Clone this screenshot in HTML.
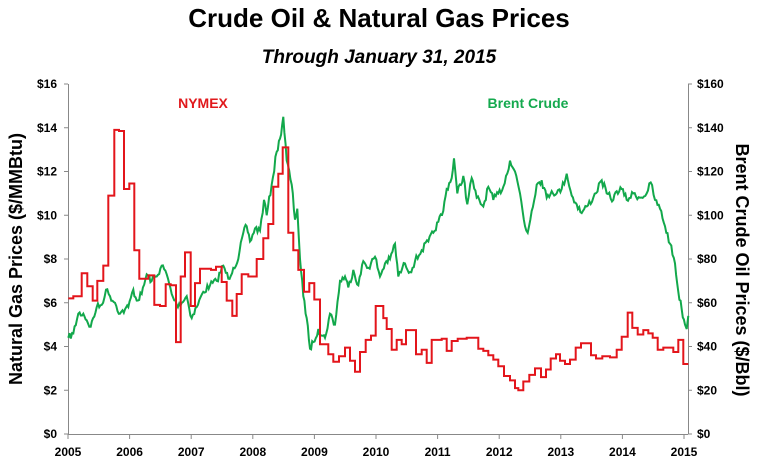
<!DOCTYPE html>
<html><head><meta charset="utf-8"><style>
html,body{margin:0;padding:0;background:#fff;}
svg{display:block;font-family:"Liberation Sans",sans-serif;}
</style></head><body>
<svg id="s" width="758" height="469" viewBox="0 0 758 469" xmlns="http://www.w3.org/2000/svg">
<text x="379" y="27" text-anchor="middle" font-size="26" font-weight="bold">Crude Oil &amp; Natural Gas Prices</text>
<text x="379" y="63" text-anchor="middle" font-size="19" font-weight="bold" font-style="italic">Through January 31, 2015</text>
<g stroke="#888" stroke-width="1" fill="none">
<line x1="68.5" y1="84" x2="68.5" y2="434"/>
<line x1="688.5" y1="84" x2="688.5" y2="434"/>
<line x1="68" y1="434.5" x2="688" y2="434.5"/>
</g>
<g id="ticks" stroke="#888" stroke-width="1"></g>
<g id="lab" font-size="12" font-weight="bold" fill="#000"></g>
<text transform="translate(22,259) rotate(-90)" text-anchor="middle" font-size="18" font-weight="bold">Natural Gas Prices ($/MMBtu)</text>
<text transform="translate(736,270) rotate(90)" text-anchor="middle" font-size="18" font-weight="bold">Brent Crude Oil Prices ($/Bbl)</text>
<text x="203" y="108" text-anchor="middle" font-size="14" font-weight="bold" fill="#e0191c">NYMEX</text>
<text x="528" y="108" text-anchor="middle" font-size="14" font-weight="bold" fill="#14a94e">Brent Crude</text>
<path id="oil" fill="none" stroke="#12a84b" stroke-width="2"/>
<path id="gas" fill="none" stroke="#e3151b" stroke-width="2"/>
</svg>
<script>
var NS="http://www.w3.org/2000/svg";
function el(t,a,p,txt){var e=document.createElementNS(NS,t);for(var k in a)e.setAttribute(k,a[k]);if(txt!==undefined)e.textContent=txt;document.getElementById(p).appendChild(e);}
function Y(v){return 434-v*21.875;}
for(var i=0;i<=8;i++){var y=Y(i*2);
 el('line',{x1:64,y1:y,x2:68,y2:y},'ticks');
 el('line',{x1:688,y1:y,x2:692,y2:y},'ticks');
 el('text',{x:57,y:y+4,'text-anchor':'end'},'lab','$'+(i*2));
 el('text',{x:697,y:y+4},'lab','$'+(i*20));}
for(var i=0;i<=10;i++){var x=68+i*61.6;
 el('line',{x1:x,y1:434,x2:x,y2:439},'ticks');
 el('text',{x:x,y:456,'text-anchor':'middle'},'lab',''+(2005+i));}
var g1=[[205,6.2],[220,6.3],[245,7.35],[262,6.75],[278,6.1],[292,7.0],[310,7.7],[325,10.9],[343,13.9],[357,13.85],[372,11.2],[388,11.45],[403,8.4],[418,7.1],[445,7.25],[463,5.9],[480,5.85],[497,6.85],[512,6.8],[528,4.2],[542,7.2],[555,8.3],[572,5.85],[585,6.9],[600,7.55],[633,7.5],[648,7.65],[665,6.95],[680,6.1],[697,5.4],[710,6.4],[725,7.3],[745,7.2],[770,8.0],[790,8.95],[805,9.6],[820,11.3],[835,11.9],[848,13.1],[865,9.2],[880,8.4],[895,7.5],[912,6.5],[928,6.9],[943,6.15],[960,4.1],[985,3.65],[1000,3.3],[1017,3.55],[1035,3.95],[1050,3.35],[1065,2.85],[1080,3.75],[1097,4.3],[1113,4.5],[1127,5.85]];
var g2=[[10,5.3],[20,4.8],[35,3.85],[50,4.3],[65,4.1],[78,4.75],[108,3.65],[125,3.85],[140,3.25],[155,4.3],[185,4.35],[200,3.8],[215,4.25],[233,4.35],[260,4.4],[295,3.9],[310,3.8],[325,3.6],[340,3.4],[355,3.1],[372,2.65],[390,2.45],[405,2.1],[415,2.0],[430,2.4],[448,2.7],[465,3.0],[483,2.6],[498,2.95],[512,3.45],[528,3.65],[540,3.35],[555,3.2],[570,3.4],[587,3.95],[603,4.15],[633,3.6],[648,3.45],[667,3.55],[690,3.5],[710,3.85],[725,4.45],[743,5.55],[757,4.85],[773,4.55],[790,4.75],[805,4.6],[818,4.4],[833,3.85],[850,3.95],[880,3.75],[895,4.3],[910,3.2],[925,3.2]];
var gp=[];g1.forEach(function(p){gp.push([p[0]/3,p[1]]);});g2.forEach(function(p){gp.push([380+p[0]/3,p[1]]);});
var d='M'+gp[0][0].toFixed(1)+','+Y(gp[0][1]).toFixed(1);
for(var i=1;i<gp.length;i++){d+=' H'+gp[i][0].toFixed(1)+' V'+Y(gp[i][1]).toFixed(1);}
document.getElementById('gas').setAttribute('d',d);
var o1=[[205,4.4],[220,4.6],[235,5.5],[250,5.5],[260,5.2],[272,4.9],[290,5.8],[305,5.9],[318,6.6],[330,6.3],[345,6.0],[360,5.5],[375,5.7],[385,5.8],[400,6.6],[410,6.1],[425,6.4],[440,7.3],[455,7.0],[470,7.2],[485,7.7],[500,7.3],[515,6.4],[530,5.9],[545,6.0],[560,6.3],[575,5.3],[590,5.8],[610,6.5],[630,6.8],[650,7.0],[670,7.7],[685,7.1],[700,7.6],[715,8.0],[730,9.2],[740,9.5],[750,8.8],[765,9.4],[780,9.3],[792,10.7],[800,10.0],[815,11.4],[830,12.9],[840,13.5],[850,14.5],[860,12.5],[875,11.4],[885,9.8],[892,10.3],[900,8.0],[910,6.3],[920,5.3],[930,3.9],[940,4.2],[955,4.8],[965,4.5],[975,4.4],[990,5.5],[1005,5.0],[1020,7.0],[1035,7.2],[1045,6.7],[1060,7.5],[1075,6.8],[1090,7.9],[1105,7.6],[1125,8.1],[1140,7.2]];
var o2=[[15,78],[30,80],[45,87],[55,72],[75,78],[90,74],[105,79],[125,84],[145,88],[160,92],[175,97],[190,102],[200,112],[215,117],[222,126],[232,110],[250,118],[262,105],[275,117],[290,108],[310,104],[325,113],[340,107],[355,110],[370,113],[390,125],[405,120],[420,110],[435,95],[443,92],[455,102],[470,114],[485,116],[500,108],[515,111],[530,110],[545,112],[560,119],[575,109],[590,105],[605,101],[620,104],[640,108],[665,116],[680,110],[700,107],[710,111],[725,112],[740,107],[760,110],[780,108],[800,110],[812,115],[825,107],[840,103],[855,95],[870,87],[885,78],[895,65],[905,57],[915,50],[920,48],[925,54]];
var op=[];o1.forEach(function(p){op.push([p[0]/3,p[1]]);});o2.forEach(function(p){op.push([380+p[0]/3,p[1]/10]);});
var seed=7;function rnd(){seed=(seed*16807)%2147483647;return seed/2147483647;}
var pts=[];
for(var i=0;i<op.length-1;i++){var a=op[i],b=op[i+1];var n=Math.max(1,Math.round((b[0]-a[0])/1.3));
 for(var k=0;k<n;k++){var t=k/n;var x=a[0]+(b[0]-a[0])*t;var y=Y(a[1]+(b[1]-a[1])*t);
  if(k>0)y+=(rnd()-0.5)*7;pts.push(x.toFixed(1)+','+y.toFixed(1));}}
var l=op[op.length-1];pts.push(l[0].toFixed(1)+','+Y(l[1]).toFixed(1));
document.getElementById('oil').setAttribute('d','M'+pts.join(' L'));
</script>
</body></html>
